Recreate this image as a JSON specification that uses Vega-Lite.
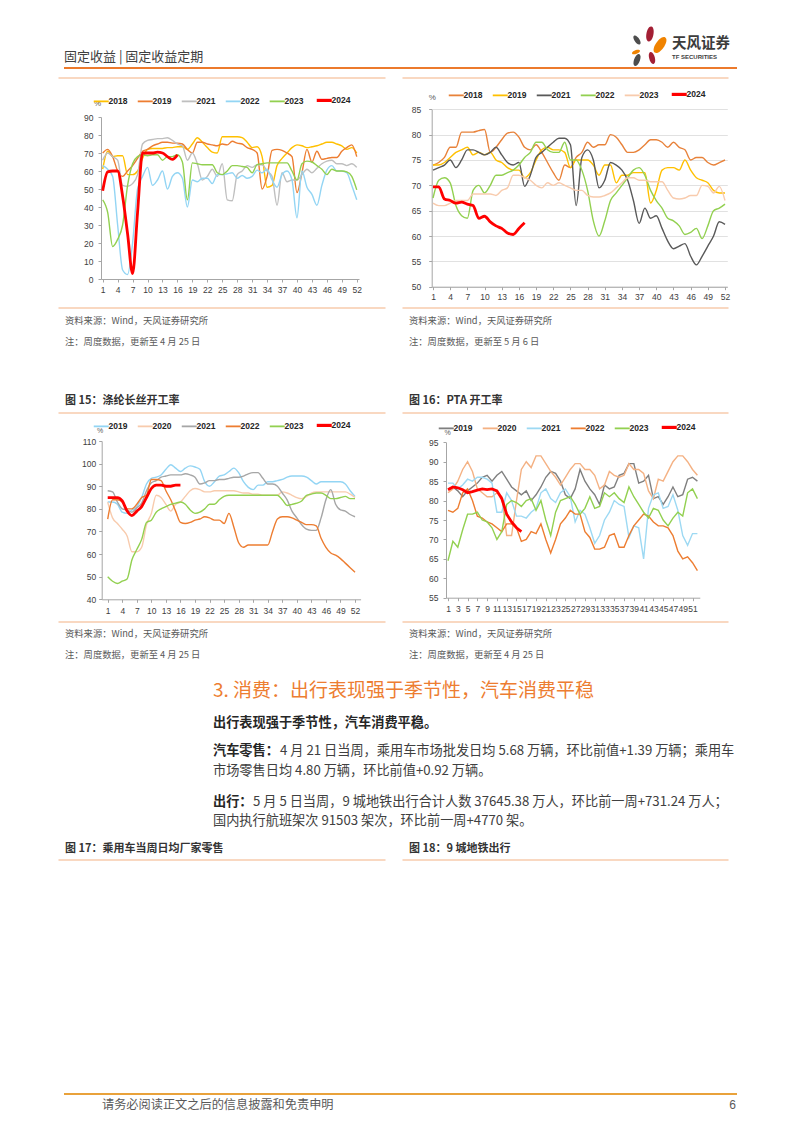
{
"$schema": "https://vega.github.io/schema/vega-lite/v6.json",
"width": 802, "height": 1133, "autosize": {"type": "none"}, "padding": 0, "background": "white",
"config": {"view": {"stroke": null},
  "axis": {"labelFont": "Liberation Sans", "titleFont": "Liberation Sans", "labelColor": "#404040", "domainColor": "#A6A6A6", "tickColor": "#A6A6A6", "labelFontSize": 8.5, "tickSize": 3, "grid": false, "labelOverlap": false, "labelFlush": false}},
"datasets": {
"c1": [
{"w":1,"2018":61,"2019":70,"2021":66,"2022":63,"2023":44,"2024":49},
{"w":2,"2018":71,"2019":72,"2021":70,"2022":61,"2023":37,"2024":59.5},
{"w":3,"2018":68,"2019":68,"2021":68,"2022":57,"2023":18,"2024":60},
{"w":4,"2018":68.5,"2019":60,"2021":66,"2022":30,"2023":22,"2024":60},
{"w":5,"2018":68.5,"2019":57,"2021":52,"2022":5,"2023":30,"2024":46},
{"w":6,"2018":58,"2019":60,"2021":51.5,"2022":2.5,"2023":52,"2024":25},
{"w":7,"2018":58,"2019":63,"2021":53,"2022":20,"2023":64,"2024":3},
{"w":8,"2018":60,"2019":67,"2021":58,"2022":50,"2023":68,"2024":37},
{"w":9,"2018":67,"2019":71,"2021":75,"2022":57,"2023":69,"2024":70},
{"w":10,"2018":72,"2019":72,"2021":77,"2022":62,"2023":68.5,"2024":70},
{"w":11,"2018":72.5,"2019":74,"2021":77.5,"2022":52,"2023":69,"2024":70},
{"w":12,"2018":72.5,"2019":75,"2021":78,"2022":55,"2023":69,"2024":70.5},
{"w":13,"2018":72.5,"2019":76,"2021":78,"2022":60,"2023":66,"2024":70},
{"w":14,"2018":73,"2019":76,"2021":78.5,"2022":50,"2023":68,"2024":68},
{"w":15,"2018":73,"2019":75.5,"2021":77,"2022":57,"2023":68,"2024":66.5},
{"w":16,"2018":73.5,"2019":75.5,"2021":75,"2022":59,"2023":69,"2024":69},
{"w":17,"2018":73.5,"2019":75,"2021":74,"2022":56,"2023":65},
{"w":18,"2018":72,"2019":72,"2021":66,"2022":40,"2023":44},
{"w":19,"2018":75,"2019":70,"2021":70,"2022":55,"2023":64.5},
{"w":20,"2018":78.5,"2019":76,"2021":64,"2022":54,"2023":64},
{"w":21,"2018":76,"2019":76,"2021":55,"2022":56,"2023":63.5},
{"w":22,"2018":73,"2019":75,"2021":57,"2022":56,"2023":63.5},
{"w":23,"2018":70.5,"2019":74.5,"2021":61,"2022":53,"2023":63.5},
{"w":24,"2018":70,"2019":74,"2021":57,"2022":58,"2023":59},
{"w":25,"2018":79,"2019":75,"2021":64,"2022":58,"2023":58},
{"w":26,"2018":79,"2019":74.5,"2021":44,"2022":58.5,"2023":60},
{"w":27,"2018":79,"2019":76.5,"2021":43.5,"2022":59,"2023":63},
{"w":28,"2018":79,"2019":75.5,"2021":58,"2022":56,"2023":63},
{"w":29,"2018":78.5,"2019":75,"2021":60,"2022":57.5,"2023":62.5},
{"w":30,"2018":76,"2019":73,"2021":63,"2022":56,"2023":62},
{"w":31,"2018":73,"2019":72,"2021":62,"2022":57,"2023":59},
{"w":32,"2018":73.5,"2019":70,"2021":63.5,"2022":60.5,"2023":63.5},
{"w":33,"2018":68,"2019":50,"2021":63.5,"2022":59,"2023":64},
{"w":34,"2018":51,"2019":57,"2021":60,"2022":61,"2023":64.5},
{"w":35,"2018":52,"2019":71.5,"2021":57,"2022":55,"2023":64.5},
{"w":36,"2018":63,"2019":72,"2021":41,"2022":51,"2023":64.5},
{"w":37,"2018":67,"2019":71.5,"2021":59,"2022":58,"2023":64.5},
{"w":38,"2018":70,"2019":70,"2021":54,"2022":60,"2023":64.5},
{"w":39,"2018":73,"2019":68,"2021":55,"2022":55,"2023":60},
{"w":40,"2018":74.5,"2019":48,"2021":55,"2022":34,"2023":55},
{"w":41,"2018":74,"2019":59,"2021":58,"2022":60,"2023":64},
{"w":42,"2018":73,"2019":72,"2021":61,"2022":51,"2023":65.5},
{"w":43,"2018":73.5,"2019":65,"2021":59,"2022":47,"2023":65},
{"w":44,"2018":74,"2019":71,"2021":61.5,"2022":41,"2023":63},
{"w":45,"2018":75,"2019":66.5,"2021":64,"2022":52,"2023":61},
{"w":46,"2018":76,"2019":67,"2021":65.5,"2022":60.5,"2023":58},
{"w":47,"2018":76,"2019":67.5,"2021":66,"2022":63,"2023":61},
{"w":48,"2018":75,"2019":67.5,"2021":64,"2022":60,"2023":60},
{"w":49,"2018":74,"2019":71,"2021":64,"2022":60,"2023":60},
{"w":50,"2018":72,"2019":73,"2021":63,"2022":59,"2023":59.5},
{"w":51,"2018":73,"2019":74.5,"2021":64,"2022":52,"2023":57},
{"w":52,"2018":70,"2019":68,"2021":62,"2022":44,"2023":49.5}
],
"c2": [
{"w":1,"2018":74,"2019":74,"2021":73,"2022":67.5,"2023":66.5,"2024":69.7},
{"w":2,"2018":74.5,"2019":74,"2021":73.5,"2022":71,"2023":66,"2024":69.7},
{"w":3,"2018":75.5,"2019":74.5,"2021":74,"2022":71.5,"2023":66,"2024":67.3},
{"w":4,"2018":77.5,"2019":75.5,"2021":75,"2022":70.5,"2023":66.5,"2024":67},
{"w":5,"2018":77.5,"2019":76.5,"2021":73.5,"2022":66,"2023":67,"2024":66.5},
{"w":6,"2018":80.5,"2019":77,"2021":75,"2022":64,"2023":67,"2024":66.7},
{"w":7,"2018":80.5,"2019":77.5,"2021":77,"2022":63.5,"2023":67,"2024":66.3},
{"w":8,"2018":80.5,"2019":76,"2021":77,"2022":69,"2023":68.3,"2024":66},
{"w":9,"2018":80.8,"2019":76.5,"2021":76.5,"2022":70,"2023":68.3,"2024":63.5},
{"w":10,"2018":81,"2019":76,"2021":76,"2022":68.5,"2023":68.3,"2024":63.9},
{"w":11,"2018":76.5,"2019":76.5,"2021":76.5,"2022":70,"2023":68.3,"2024":62.8},
{"w":12,"2018":77.5,"2019":75,"2021":77.5,"2022":72,"2023":68,"2024":62},
{"w":13,"2018":79,"2019":74.5,"2021":76,"2022":72,"2023":69,"2024":61.5},
{"w":14,"2018":80.3,"2019":73.5,"2021":74.5,"2022":72.5,"2023":69.5,"2024":60.6},
{"w":15,"2018":80.5,"2019":73,"2021":74,"2022":73,"2023":72,"2024":60.3},
{"w":16,"2018":79.5,"2019":73,"2021":74.5,"2022":74,"2023":72,"2024":61.5},
{"w":17,"2018":77.5,"2019":71.5,"2021":69.8,"2022":75.5,"2023":71.5,"2024":62.6},
{"w":18,"2018":77,"2019":72.5,"2021":72,"2022":76.5,"2023":71},
{"w":19,"2018":78,"2019":75,"2021":75.5,"2022":78.5,"2023":70},
{"w":20,"2018":76.5,"2019":77,"2021":76.5,"2022":78.5,"2023":69.5},
{"w":21,"2018":74.5,"2019":77.5,"2021":77.5,"2022":77,"2023":70.5},
{"w":22,"2018":72.5,"2019":77,"2021":78.5,"2022":76.5,"2023":70},
{"w":23,"2018":71,"2019":77,"2021":79.3,"2022":76.5,"2023":70.5},
{"w":24,"2018":74,"2019":76.5,"2021":79.3,"2022":78.5,"2023":70},
{"w":25,"2018":73.5,"2019":73.5,"2021":78,"2022":75,"2023":69.5},
{"w":26,"2018":75.5,"2019":75,"2021":66,"2022":75,"2023":69},
{"w":27,"2018":76.5,"2019":75,"2021":75.5,"2022":73,"2023":69},
{"w":28,"2018":78.5,"2019":75,"2021":77,"2022":69,"2023":68},
{"w":29,"2018":77.5,"2019":74,"2021":75,"2022":63,"2023":67.7},
{"w":30,"2018":78,"2019":72,"2021":69.5,"2022":60,"2023":67.7},
{"w":31,"2018":78,"2019":74,"2021":71,"2022":63,"2023":68},
{"w":32,"2018":80,"2019":74,"2021":74.5,"2022":67,"2023":68.5},
{"w":33,"2018":79.5,"2019":70.5,"2021":74,"2022":68.5,"2023":69.5},
{"w":34,"2018":78,"2019":72,"2021":73,"2022":70,"2023":70.5},
{"w":35,"2018":76.5,"2019":72,"2021":71,"2022":71.5,"2023":71.5},
{"w":36,"2018":76.5,"2019":72.5,"2021":67,"2022":73,"2023":71.5},
{"w":37,"2018":77,"2019":72.5,"2021":62.5,"2022":73.5,"2023":71},
{"w":38,"2018":78,"2019":72.5,"2021":65.5,"2022":72,"2023":71},
{"w":39,"2018":79,"2019":66.5,"2021":63.5,"2022":69,"2023":70.7},
{"w":40,"2018":79,"2019":69,"2021":64,"2022":67,"2023":70.7},
{"w":41,"2018":78.5,"2019":73,"2021":61.5,"2022":65.5,"2023":70.7},
{"w":42,"2018":77.5,"2019":73.5,"2021":59,"2022":63.5,"2023":69},
{"w":43,"2018":78.5,"2019":73.5,"2021":57.5,"2022":63,"2023":67.5},
{"w":44,"2018":77.5,"2019":73,"2021":58,"2022":62,"2023":67.3},
{"w":45,"2018":77,"2019":75,"2021":58.5,"2022":60.3,"2023":67.5},
{"w":46,"2018":75,"2019":73,"2021":56,"2022":60.7,"2023":68},
{"w":47,"2018":75.5,"2019":71.5,"2021":54.3,"2022":61.5,"2023":68},
{"w":48,"2018":75.5,"2019":71,"2021":56,"2022":59.5,"2023":70},
{"w":49,"2018":74.5,"2019":70.5,"2021":58,"2022":62,"2023":69.8},
{"w":50,"2018":74,"2019":69,"2021":60,"2022":65,"2023":68.5},
{"w":51,"2018":74.5,"2019":68.5,"2021":62.8,"2022":65.5,"2023":69.8},
{"w":52,"2018":75,"2019":68.5,"2021":62.3,"2022":66.3,"2023":67}
],
"c3": [
{"w":1,"2019":83,"2020":83,"2021":88,"2022":75.5,"2023":50,"2024":85},
{"w":2,"2019":83,"2020":76,"2021":87.5,"2022":84,"2023":48,"2024":85},
{"w":3,"2019":82,"2020":73.5,"2021":83,"2022":84,"2023":47,"2024":85},
{"w":4,"2019":78.5,"2020":71,"2021":80,"2022":83,"2023":48,"2024":83.5},
{"w":5,"2019":78,"2020":68,"2021":79.5,"2022":80,"2023":49,"2024":79},
{"w":6,"2019":79.5,"2020":61,"2021":78.5,"2022":80,"2023":57.5,"2024":77},
{"w":7,"2019":81,"2020":61,"2021":80.5,"2022":82,"2023":62,"2024":79},
{"w":8,"2019":85,"2020":63,"2021":82.5,"2022":85,"2023":66.5,"2024":81},
{"w":9,"2019":91,"2020":73,"2021":88,"2022":86,"2023":74,"2024":85},
{"w":10,"2019":93.5,"2020":78,"2021":91.5,"2022":93,"2023":75,"2024":89},
{"w":11,"2019":94,"2020":86,"2021":92.5,"2022":93,"2023":78.5,"2024":90.5},
{"w":12,"2019":95,"2020":85,"2021":94,"2022":92.5,"2023":80,"2024":90.5},
{"w":13,"2019":97.5,"2020":82,"2021":94.5,"2022":88,"2023":81,"2024":90},
{"w":14,"2019":99.5,"2020":79,"2021":95,"2022":84,"2023":82,"2024":90},
{"w":15,"2019":98,"2020":82,"2021":95,"2022":79,"2023":82.5,"2024":90.5},
{"w":16,"2019":96.5,"2020":83,"2021":95,"2022":74,"2023":83,"2024":90.5},
{"w":17,"2019":98,"2020":85.5,"2021":95.5,"2022":73.5,"2023":82},
{"w":18,"2019":99,"2020":88,"2021":95,"2022":74,"2023":79.5},
{"w":19,"2019":98.5,"2020":89,"2021":94,"2022":75,"2023":78},
{"w":20,"2019":97.5,"2020":88.5,"2021":91,"2022":75.5,"2023":78.5},
{"w":21,"2019":92,"2020":87.5,"2021":91.5,"2022":76.5,"2023":80},
{"w":22,"2019":90,"2020":87.5,"2021":92.5,"2022":76,"2023":82},
{"w":23,"2019":92,"2020":88,"2021":92.5,"2022":75,"2023":82},
{"w":24,"2019":94.5,"2020":88,"2021":93,"2022":75,"2023":84},
{"w":25,"2019":95,"2020":88,"2021":93,"2022":73.5,"2023":85.5},
{"w":26,"2019":96.5,"2020":88,"2021":93.5,"2022":78,"2023":86},
{"w":27,"2019":98,"2020":88,"2021":94,"2022":72,"2023":86},
{"w":28,"2019":96,"2020":87.5,"2021":94,"2022":65,"2023":86},
{"w":29,"2019":92,"2020":87,"2021":94.5,"2022":63,"2023":86},
{"w":30,"2019":89.5,"2020":87,"2021":95.5,"2022":64,"2023":86},
{"w":31,"2019":88.5,"2020":86.5,"2021":96,"2022":64,"2023":86},
{"w":32,"2019":90.5,"2020":86.5,"2021":96,"2022":64,"2023":86},
{"w":33,"2019":90.5,"2020":86,"2021":93.5,"2022":64,"2023":86},
{"w":34,"2019":92,"2020":86,"2021":91,"2022":64,"2023":86},
{"w":35,"2019":92,"2020":86,"2021":91,"2022":70,"2023":86},
{"w":36,"2019":92.5,"2020":86,"2021":90,"2022":75.5,"2023":86},
{"w":37,"2019":93,"2020":87.5,"2021":87,"2022":76.5,"2023":84},
{"w":38,"2019":94,"2020":87,"2021":84,"2022":76.5,"2023":81.5},
{"w":39,"2019":94.5,"2020":86,"2021":79,"2022":76,"2023":82},
{"w":40,"2019":94.5,"2020":85,"2021":76,"2022":75,"2023":82.5},
{"w":41,"2019":94.5,"2020":84.5,"2021":73,"2022":74,"2023":83.5},
{"w":42,"2019":94,"2020":85.5,"2021":71,"2022":73,"2023":86},
{"w":43,"2019":92.5,"2020":87,"2021":70.5,"2022":73,"2023":86.5},
{"w":44,"2019":91,"2020":87.5,"2021":70.5,"2022":72.5,"2023":87},
{"w":45,"2019":92,"2020":87.5,"2021":76,"2022":67,"2023":87},
{"w":46,"2019":92,"2020":87.5,"2021":84,"2022":63,"2023":86},
{"w":47,"2019":92,"2020":87.5,"2021":88.5,"2022":60.5,"2023":84.5},
{"w":48,"2019":92,"2020":87.5,"2021":82,"2022":59.5,"2023":84.5},
{"w":49,"2019":92,"2020":87.5,"2021":79.5,"2022":58,"2023":85},
{"w":50,"2019":91,"2020":87.5,"2021":79,"2022":56,"2023":85.5},
{"w":51,"2019":88,"2020":86.5,"2021":77.5,"2022":54,"2023":84.5},
{"w":52,"2019":85.5,"2020":85,"2021":76.5,"2022":52,"2023":84.5}
],
"c4": [
{"w":1,"2019":83,"2020":82,"2021":84.5,"2022":77.5,"2023":64.5,"2024":82.8},
{"w":2,"2019":83.5,"2020":83,"2021":84.5,"2022":77,"2023":69.5,"2024":83.5},
{"w":3,"2019":82.5,"2020":85,"2021":83,"2022":78,"2023":68,"2024":83.3},
{"w":4,"2019":81,"2020":88,"2021":84,"2022":82,"2023":72.5,"2024":82.8},
{"w":5,"2019":82.5,"2020":90,"2021":85.5,"2022":83,"2023":76.5,"2024":82},
{"w":6,"2019":83.5,"2020":87.5,"2021":85,"2022":80,"2023":76.5,"2024":82.3},
{"w":7,"2019":84.5,"2020":83,"2021":86,"2022":76,"2023":77,"2024":82.7},
{"w":8,"2019":86,"2020":82,"2021":86,"2022":75.5,"2023":75,"2024":83},
{"w":9,"2019":86.5,"2020":81,"2021":85.5,"2022":74.5,"2023":74.5,"2024":82.8},
{"w":10,"2019":85,"2020":81,"2021":84.5,"2022":74,"2023":73,"2024":83},
{"w":11,"2019":86.5,"2020":82,"2021":77,"2022":73,"2023":70,"2024":82.5},
{"w":12,"2019":87.5,"2020":81,"2021":77,"2022":72,"2023":72,"2024":80.5},
{"w":13,"2019":85.5,"2020":71,"2021":82,"2022":74,"2023":79,"2024":76.5},
{"w":14,"2019":83.5,"2020":71,"2021":80,"2022":74,"2023":80,"2024":74.5},
{"w":15,"2019":82.5,"2020":80,"2021":76,"2022":73,"2023":79.5,"2024":73},
{"w":16,"2019":81.5,"2020":88,"2021":76,"2022":69.5,"2023":78.5,"2024":72},
{"w":17,"2019":82.5,"2020":90,"2021":75.5,"2022":70,"2023":80},
{"w":18,"2019":80,"2020":88.5,"2021":77,"2022":72,"2023":80.5},
{"w":19,"2019":81.5,"2020":91.5,"2021":78,"2022":71.5,"2023":77.5},
{"w":20,"2019":83.5,"2020":91.5,"2021":82,"2022":74,"2023":80},
{"w":21,"2019":86,"2020":89.5,"2021":83,"2022":70,"2023":75},
{"w":22,"2019":87.5,"2020":87.5,"2021":80.5,"2022":66.5,"2023":71},
{"w":23,"2019":87,"2020":86,"2021":79.5,"2022":70,"2023":77},
{"w":24,"2019":85,"2020":84,"2021":82,"2022":74,"2023":80},
{"w":25,"2019":81.5,"2020":86,"2021":83,"2022":75.5,"2023":80.5},
{"w":26,"2019":80.5,"2020":88,"2021":81,"2022":77.5,"2023":81},
{"w":27,"2019":83,"2020":89.5,"2021":74.5,"2022":76.5,"2023":79},
{"w":28,"2019":88,"2020":89.5,"2021":77.5,"2022":76.5,"2023":76.5},
{"w":29,"2019":85,"2020":88,"2021":76.5,"2022":72,"2023":78},
{"w":30,"2019":83,"2020":88,"2021":73,"2022":70.5,"2023":81},
{"w":31,"2019":81.5,"2020":86.5,"2021":69,"2022":67.5,"2023":78},
{"w":32,"2019":79,"2020":83,"2021":71,"2022":67.5,"2023":78.5},
{"w":33,"2019":84,"2020":84,"2021":75,"2022":68,"2023":82},
{"w":34,"2019":83,"2020":87.5,"2021":77,"2022":71,"2023":81},
{"w":35,"2019":83.5,"2020":86.5,"2021":80,"2022":71.5,"2023":82},
{"w":36,"2019":86.5,"2020":86,"2021":79,"2022":68,"2023":80.5},
{"w":37,"2019":87,"2020":86.5,"2021":78.5,"2022":68,"2023":79.5},
{"w":38,"2019":89.5,"2020":89.5,"2021":70.5,"2022":71,"2023":83.5},
{"w":39,"2019":89.5,"2020":88,"2021":73.5,"2022":73.5,"2023":81},
{"w":40,"2019":84.5,"2020":88,"2021":73,"2022":75,"2023":79},
{"w":41,"2019":85,"2020":87,"2021":65,"2022":76.5,"2023":77},
{"w":42,"2019":86.5,"2020":82.5,"2021":78,"2022":76,"2023":75.5},
{"w":43,"2019":80.5,"2020":80.5,"2021":81.5,"2022":74.5,"2023":78},
{"w":44,"2019":81,"2020":85.5,"2021":82,"2022":73.5,"2023":77.5},
{"w":45,"2019":79,"2020":85,"2021":78,"2022":73.5,"2023":75},
{"w":46,"2019":81,"2020":87.5,"2021":78.5,"2022":73,"2023":73.5},
{"w":47,"2019":83.5,"2020":90,"2021":81.5,"2022":71,"2023":75.5},
{"w":48,"2019":81,"2020":91.5,"2021":77.5,"2022":67,"2023":77},
{"w":49,"2019":81.5,"2020":91.5,"2021":71,"2022":65,"2023":76},
{"w":50,"2019":85.5,"2020":90,"2021":68.5,"2022":65.5,"2023":82},
{"w":51,"2019":86,"2020":88,"2021":71.5,"2022":64,"2023":83},
{"w":52,"2019":85,"2020":86.5,"2021":71.5,"2022":62,"2023":80.5}
],
"texts": [
{"id":1,"k":"header","t":"固定收益 | 固定收益定期"},
{"id":2,"k":"logo","t":"天风证券"},
{"id":3,"k":"logosub","t":"TF SECURITIES"},
{"id":4,"k":"note","t":"资料来源：Wind，天风证券研究所"},
{"id":5,"k":"note","t":"资料来源：Wind，天风证券研究所"},
{"id":6,"k":"note","t":"注：周度数据，更新至 4 月 25 日"},
{"id":7,"k":"note","t":"注：周度数据，更新至 5 月 6 日"},
{"id":8,"k":"fig","t":"图 15：涤纶长丝开工率"},
{"id":9,"k":"fig","t":"图 16：PTA 开工率"},
{"id":10,"k":"note","t":"资料来源：Wind，天风证券研究所"},
{"id":11,"k":"note","t":"资料来源：Wind，天风证券研究所"},
{"id":12,"k":"note","t":"注：周度数据，更新至 4 月 25 日"},
{"id":13,"k":"note","t":"注：周度数据，更新至 4 月 25 日"},
{"id":14,"k":"section","t":"3. 消费：出行表现强于季节性，汽车消费平稳"},
{"id":15,"k":"bodybold","t":"出行表现强于季节性，汽车消费平稳。"},
{"id":16,"k":"bodybold","t":"汽车零售："},
{"id":17,"k":"body","t":"4 月 21 日当周，乘用车市场批发日均 5.68 万辆，环比前值+1.39 万辆；乘用车"},
{"id":18,"k":"body","t":"市场零售日均 4.80 万辆，环比前值+0.92 万辆。"},
{"id":19,"k":"bodybold","t":"出行："},
{"id":20,"k":"body","t":"5 月 5 日当周，9 城地铁出行合计人数 37645.38 万人，环比前一周+731.24 万人；"},
{"id":21,"k":"body","t":"国内执行航班架次 91503 架次，环比前一周+4770 架。"},
{"id":22,"k":"fig","t":"图 17：乘用车当周日均厂家零售"},
{"id":23,"k":"fig","t":"图 18：9 城地铁出行"},
{"id":24,"k":"footer","t":"请务必阅读正文之后的信息披露和免责申明"},
{"id":25,"k":"footerR","t":"6"}
],
"rules": [
{"r":1,"a":1,"b":2,"k":"header"},
{"r":2,"a":3,"b":4,"k":"thin"},{"r":2,"a":5,"b":6,"k":"thin"},
{"r":3,"a":3,"b":4,"k":"thin"},{"r":3,"a":5,"b":6,"k":"thin"},
{"r":4,"a":3,"b":4,"k":"thin"},{"r":4,"a":5,"b":6,"k":"thin"},
{"r":5,"a":3,"b":4,"k":"thin"},{"r":5,"a":5,"b":6,"k":"thin"},
{"r":6,"a":3,"b":4,"k":"thin"},{"r":6,"a":5,"b":6,"k":"thin"},
{"r":7,"a":1,"b":2,"k":"footer"}
],
"logo": [{"p":1},{"p":2},{"p":3},{"p":4},{"p":5},{"p":6}]
},
"layer": [
{
 "data": {"name": "c1"},
 "transform": [{"fold": ["2018","2019","2021","2022","2023","2024"], "as": ["s","v"]}, {"filter": "isValid(datum.v)"}],
 "mark": {"type": "line", "interpolate": "monotone"},
 "encoding": {
  "x": {"field": "w", "type": "quantitative", "scale": {"domain": [0.66, 52.45], "range": [101, 359], "nice": false, "zero": false},
        "axis": {"orient": "bottom", "offset": -854, "values": [1,4,7,10,13,16,19,22,25,28,31,34,37,40,43,46,49,52], "title": null, "labelPadding": 3}},
  "y": {"field": "v", "type": "quantitative", "scale": {"domain": [0, 90], "range": [279, 117], "nice": false, "zero": false},
        "axis": {"orient": "left", "offset": -101, "values": [0,10,20,30,40,50,60,70,80,90], "labelPadding": 5, "title": "%", "titleAngle": 0, "titleX": -4, "titleY": 103, "titleAlign": "center", "titleBaseline": "middle", "titleFontSize": 8, "titleFontWeight": "normal", "titleColor": "#595959"}},
  "color": {"field": "s", "type": "nominal", "scale": {"domain": ["2018","2019","2021","2022","2023","2024"], "range": ["#FFC000","#ED7D31","#BFBFBF","#93D5F4","#92D050","#FF0000"]},
        "legend": {"orient": "none", "legendX": 97, "legendY": 96, "direction": "horizontal", "title": null, "symbolType": "stroke", "symbolSize": 225, "symbolStrokeWidth": 1.8, "labelFont": "Liberation Sans", "labelFontSize": 8.5, "labelFontWeight": "bold", "labelColor": "#262626", "labelOffset": 3, "columnPadding": 6, "padding": 0, "encode": {"symbols": {"update": {"strokeWidth": {"signal": "datum.value === '2024' ? 3.2 : 1.8"}}}}}},
  "strokeWidth": {"condition": {"test": "datum.s === '2024'", "value": 2.8}, "value": 1.4}
 }
},
{
 "data": {"name": "c2"},
 "transform": [{"fold": ["2018","2019","2021","2022","2023","2024"], "as": ["s","v"]}, {"filter": "isValid(datum.v)"}],
 "mark": {"type": "line", "interpolate": "monotone"},
 "encoding": {
  "x": {"field": "w", "type": "quantitative", "scale": {"domain": [0.77, 52.4], "range": [431.7, 727.3], "nice": false, "zero": false},
        "axis": {"orient": "bottom", "offset": -846.3, "values": [1,4,7,10,13,16,19,22,25,28,31,34,37,40,43,46,49,52], "title": null, "labelPadding": 3}},
  "y": {"field": "v", "type": "quantitative", "scale": {"domain": [50, 85], "range": [286.7, 109.3], "nice": false, "zero": false},
        "axis": {"orient": "left", "offset": -431.7, "values": [50,55,60,65,70,75,80,85], "labelPadding": 8, "grid": true, "gridColor": "#D9D9D9", "gridWidth": 0.8, "title": "%", "titleAngle": 0, "titleX": 0, "titleY": 97, "titleAlign": "center", "titleBaseline": "middle", "titleFontSize": 8, "titleFontWeight": "normal", "titleColor": "#595959"}},
  "color": {"field": "s", "type": "nominal", "scale": {"domain": ["2018","2019","2021","2022","2023","2024"], "range": ["#E8823A","#FFC000","#595959","#92D050","#F8CBAD","#FF0000"]},
        "legend": {"orient": "none", "legendX": 452, "legendY": 90, "direction": "horizontal", "title": null, "symbolType": "stroke", "symbolSize": 225, "symbolStrokeWidth": 1.8, "labelFont": "Liberation Sans", "labelFontSize": 8.5, "labelFontWeight": "bold", "labelColor": "#262626", "labelOffset": 3, "columnPadding": 6, "padding": 0, "encode": {"symbols": {"update": {"strokeWidth": {"signal": "datum.value === '2024' ? 3.2 : 1.8"}}}}}},
  "strokeWidth": {"condition": {"test": "datum.s === '2024'", "value": 2.8}, "value": 1.4}
 }
},
{
 "data": {"name": "c3"},
 "transform": [{"fold": ["2019","2020","2021","2022","2023","2024"], "as": ["s","v"]}, {"filter": "isValid(datum.v)"}],
 "mark": {"type": "line", "interpolate": "monotone"},
 "encoding": {
  "x": {"field": "w", "type": "quantitative", "scale": {"domain": [-0.24, 53.15], "range": [101.7, 360.6], "nice": false, "zero": false},
        "axis": {"orient": "bottom", "offset": -533.7, "values": [1,4,7,10,13,16,19,22,25,28,31,34,37,40,43,46,49,52], "title": null, "labelPadding": 4}},
  "y": {"field": "v", "type": "quantitative", "scale": {"domain": [40, 110], "range": [599.3, 441], "nice": false, "zero": false},
        "axis": {"orient": "left", "offset": -101.7, "values": [40,50,60,70,80,90,100,110], "labelPadding": 3, "title": "%", "titleAngle": 0, "titleX": -2, "titleY": 430, "titleAlign": "center", "titleBaseline": "middle", "titleFontSize": 7, "titleFontWeight": "normal", "titleColor": "#595959"}},
  "color": {"field": "s", "type": "nominal", "scale": {"domain": ["2019","2020","2021","2022","2023","2024"], "range": ["#93D5F4","#F8CBAD","#A6A6A6","#ED7D31","#92D050","#FF0000"]},
        "legend": {"orient": "none", "legendX": 97, "legendY": 421, "direction": "horizontal", "title": null, "symbolType": "stroke", "symbolSize": 225, "symbolStrokeWidth": 1.8, "labelFont": "Liberation Sans", "labelFontSize": 8.5, "labelFontWeight": "bold", "labelColor": "#262626", "labelOffset": 3, "columnPadding": 6, "padding": 0, "encode": {"symbols": {"update": {"strokeWidth": {"signal": "datum.value === '2024' ? 3.2 : 1.8"}}}}}},
  "strokeWidth": {"condition": {"test": "datum.s === '2024'", "value": 2.8}, "value": 1.4}
 }
},
{
 "data": {"name": "c4"},
 "transform": [{"fold": ["2019","2020","2021","2022","2023","2024"], "as": ["s","v"]}, {"filter": "isValid(datum.v)"}],
 "mark": {"type": "line"},
 "encoding": {
  "x": {"field": "w", "type": "quantitative", "scale": {"domain": [0.59, 52.49], "range": [446, 699.8], "nice": false, "zero": false},
        "axis": {"orient": "bottom", "offset": -535.3, "values": [1,3,5,7,9,11,13,15,17,19,21,23,25,27,29,31,33,35,37,39,41,43,45,47,49,51], "title": null, "labelPadding": 4}},
  "y": {"field": "v", "type": "quantitative", "scale": {"domain": [55, 95], "range": [597.7, 442.3], "nice": false, "zero": false},
        "axis": {"orient": "left", "offset": -446, "values": [55,60,65,70,75,80,85,90,95], "labelPadding": 5, "title": "%", "titleAngle": 0, "titleX": 1, "titleY": 432, "titleAlign": "center", "titleBaseline": "middle", "titleFontSize": 7, "titleFontWeight": "normal", "titleColor": "#595959"}},
  "color": {"field": "s", "type": "nominal", "scale": {"domain": ["2019","2020","2021","2022","2023","2024"], "range": ["#7F7F7F","#F4B183","#9DD9F3","#ED7D31","#92D050","#FF0000"]},
        "legend": {"orient": "none", "legendX": 442, "legendY": 423, "direction": "horizontal", "title": null, "symbolType": "stroke", "symbolSize": 225, "symbolStrokeWidth": 1.8, "labelFont": "Liberation Sans", "labelFontSize": 8.5, "labelFontWeight": "bold", "labelColor": "#262626", "labelOffset": 3, "columnPadding": 6, "padding": 0, "encode": {"symbols": {"update": {"strokeWidth": {"signal": "datum.value === '2024' ? 3.2 : 1.8"}}}}}},
  "strokeWidth": {"condition": {"test": "datum.s === '2024'", "value": 2.8}, "value": 1.4}
 }
},
{
 "data": {"name": "rules"},
 "mark": {"type": "rule"},
 "encoding": {
  "x": {"field": "a", "type": "quantitative", "scale": {"domain": [1,2,3,4,5,6], "range": [64,737,58.5,385.5,402.5,728.5], "nice": false, "zero": false}, "axis": null},
  "x2": {"field": "b"},
  "y": {"field": "r", "type": "quantitative", "scale": {"domain": [1,2,3,4,5,6,7], "range": [68,78,308,413,622,860,1094], "nice": false, "zero": false}, "axis": null},
  "color": {"field": "k", "type": "nominal", "scale": {"domain": ["header","thin","footer"], "range": ["#EC7A2C","#F4B183","#E9A23B"]}, "legend": null},
  "strokeWidth": {"condition": {"test": "datum.k !== 'thin'", "value": 1.8}, "value": 1.2}
 }
},
{
 "data": {"name": "logo"},
 "mark": {"type": "point", "filled": true, "opacity": 1, "strokeWidth": 0, "shape": "M0,-1C0.62,-1,0.62,1,0,1C-0.62,1,-0.62,-1,0,-1Z"},
 "encoding": {
  "x": {"field": "p", "type": "quantitative", "scale": {"domain": [1,2,3,4,5,6], "range": [650,637,660,636,652,637], "nice": false, "zero": false}, "axis": null},
  "y": {"field": "p", "type": "quantitative", "scale": {"domain": [1,2,3,4,5,6], "range": [34,40,45,52,58,60], "nice": false, "zero": false}, "axis": null},
  "color": {"field": "p", "type": "nominal", "scale": {"domain": [1,2,3,4,5,6], "range": ["#A31F34","#4D4D4D","#F08300","#F08300","#A31F34","#4D4D4D"]}, "legend": null},
  "size": {"field": "p", "type": "quantitative", "scale": {"domain": [1,2,3,4,5,6], "range": [230,110,340,70,150,160], "nice": false, "zero": false}, "legend": null},
  "angle": {"field": "p", "type": "quantitative", "scale": {"domain": [1,2,3,4,5,6], "range": [10,-35,35,70,-15,20], "nice": false, "zero": false}, "legend": null}
 }
},
{
 "data": {"name": "texts"},
 "encoding": {
  "x": {"field": "id", "type": "quantitative", "scale": {"domain": [1,2,3,4,5,6,7,8,9,10,11,12,13,14,15,16,17,18,19,20,21,22,23,24,25], "range": [64,672,672,65,409,65,409,65,409,65,409,65,409,213,213,213,280,213,213,253,213,65,409,102,736], "nice": false, "zero": false}, "axis": null},
  "y": {"field": "id", "type": "quantitative", "scale": {"domain": [1,2,3,4,5,6,7,8,9,10,11,12,13,14,15,16,17,18,19,20,21,22,23,24,25], "range": [57,44,57,321,321,342,342,401,401,634,634,655,655,691,723,751,751,771,802,802,821,849,849,1105,1105], "nice": false, "zero": false}, "axis": null},
  "text": {"field": "t"}
 },
 "layer": [
  {"transform": [{"filter": "datum.k === 'header'"}], "mark": {"type": "text", "align": "left", "baseline": "middle", "font": "Noto Sans CJK SC", "fontSize": 13, "color": "#404040"}},
  {"transform": [{"filter": "datum.k === 'logo'"}], "mark": {"type": "text", "align": "left", "baseline": "middle", "font": "Noto Sans CJK SC", "fontSize": 14.5, "fontWeight": "bold", "color": "#3C3C3C"}},
  {"transform": [{"filter": "datum.k === 'logosub'"}], "mark": {"type": "text", "align": "left", "baseline": "middle", "font": "Liberation Sans", "fontSize": 6, "fontWeight": "bold", "color": "#404040"}},
  {"transform": [{"filter": "datum.k === 'note'"}], "mark": {"type": "text", "align": "left", "baseline": "middle", "font": "Noto Sans CJK SC", "fontSize": 9.3, "color": "#595959"}},
  {"transform": [{"filter": "datum.k === 'fig'"}], "mark": {"type": "text", "align": "left", "baseline": "middle", "font": "Noto Sans CJK SC", "fontSize": 11, "fontWeight": "bold", "color": "#333333"}},
  {"transform": [{"filter": "datum.k === 'section'"}], "mark": {"type": "text", "align": "left", "baseline": "middle", "font": "Noto Sans CJK SC", "fontSize": 19, "color": "#ED7D31"}},
  {"transform": [{"filter": "datum.k === 'bodybold'"}], "mark": {"type": "text", "align": "left", "baseline": "middle", "font": "Noto Sans CJK SC", "fontSize": 13.2, "fontWeight": "bold", "color": "#262626"}},
  {"transform": [{"filter": "datum.k === 'body'"}], "mark": {"type": "text", "align": "left", "baseline": "middle", "font": "Noto Sans CJK SC", "fontSize": 13.2, "color": "#404040"}},
  {"transform": [{"filter": "datum.k === 'footer'"}], "mark": {"type": "text", "align": "left", "baseline": "middle", "font": "Noto Sans CJK SC", "fontSize": 12.2, "color": "#595959"}},
  {"transform": [{"filter": "datum.k === 'footerR'"}], "mark": {"type": "text", "align": "right", "baseline": "middle", "font": "Liberation Sans", "fontSize": 12, "color": "#595959"}}
 ]
}
],
"resolve": {"scale": {"x": "independent", "y": "independent", "color": "independent", "size": "independent", "angle": "independent"}, "axis": {"x": "independent", "y": "independent"}}
}
